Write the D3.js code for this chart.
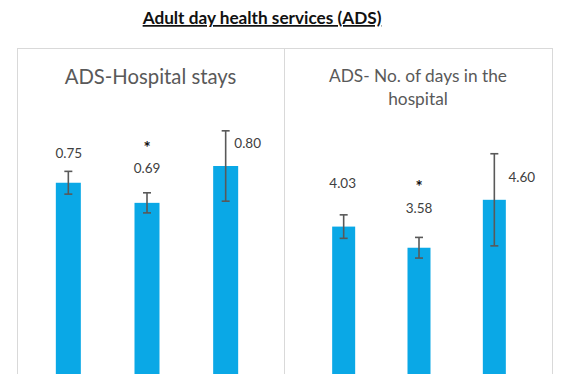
<!DOCTYPE html>
<html>
<head>
<meta charset="utf-8">
<script src="https://cdn.jsdelivr.net/npm/d3@7"></script>
<style>
  html, body { margin: 0; padding: 0; background: #fff; }
  svg { display: block; font-family: Lato, "Open Sans", sans-serif; }
</style>
</head>
<body>
<div id="chart"></div>
<script>
// ---- data ----
const mainTitle = 'Adult day health services (ADS)';
const groups = ['Group 1', 'Group 2', 'Group 3'];

const staysTitle = ['ADS-Hospital stays'];
const staysValues = [0.75, 0.69, 0.80];
const staysErrors = [0.034, 0.03, 0.105];
const staysLabels = ['0.75', '0.69', '0.80'];
const staysStars = ['', '*', ''];

const daysTitle = ['ADS- No. of days in the', 'hospital'];
const daysValues = [4.03, 3.58, 4.60];
const daysErrors = [0.25, 0.22, 0.98];
const daysLabels = ['4.03', '3.58', '4.60'];
const daysStars = ['', '*', ''];

// ---- layout ----
const width = 574, height = 374;
const barColor = '#0aa8e6';
const errColor = '#595959';

const panels = [
  {
    title: staysTitle, values: staysValues, errors: staysErrors, labels: staysLabels, stars: staysStars,
    box: [17, 284], xRange: [29, 265], yDomain: [0, 1], yRange: [434, 99], barW: 25,
    titleY: 84, titleSize: 20.3,
    labelOff: [[0.5, -25], [0, -30], [22, -18]], starOff: [[0, 0], [0, -51], [0, 0]]
  },
  {
    title: daysTitle, values: daysValues, errors: daysErrors, labels: daysLabels, stars: daysStars,
    box: [284, 552], xRange: [306, 532], yDomain: [0, 6], yRange: [416, 134], barW: 23,
    titleY: 82, titleSize: 17.3,
    labelOff: [[-1, -39], [0, -35], [27.5, -18]], starOff: [[0, 0], [0, -57], [0, 0]]
  }
];

const svg = d3.select('#chart')
  .append('svg')
  .attr('width', width)
  .attr('height', height);

// Main title (bold, underlined)
svg.append('text')
  .attr('x', 262)
  .attr('y', 24)
  .attr('text-anchor', 'middle')
  .style('font-size', '17.2px')
  .style('font-weight', 'bold')
  .style('text-decoration', 'underline')
  .attr('fill', '#111')
  .text(mainTitle);

panels.forEach(p => {
  const g = svg.append('g');

  // panel frame
  g.append('rect')
    .attr('x', p.box[0] + 0.5)
    .attr('y', 48.5)
    .attr('width', p.box[1] - p.box[0])
    .attr('height', 340)
    .attr('fill', 'none')
    .attr('stroke', '#d9d9d9')
    .attr('stroke-width', 1);

  const cx = (p.box[0] + p.box[1]) / 2;

  // panel title
  p.title.forEach((line, i) => {
    g.append('text')
      .attr('x', cx)
      .attr('y', p.titleY + i * 23)
      .attr('text-anchor', 'middle')
      .style('font-size', p.titleSize + 'px')
      .attr('fill', '#595959')
      .text(line);
  });

  const x = d3.scalePoint()
    .domain(groups)
    .range(p.xRange)
    .padding(0.5);

  const y = d3.scaleLinear()
    .domain(p.yDomain)
    .range(p.yRange);

  const data = groups.map((name, i) => ({
    name, value: p.values[i], err: p.errors[i], label: p.labels[i], star: p.stars[i], i
  }));

  // bars
  g.selectAll('.bar')
    .data(data)
    .enter()
    .append('rect')
    .attr('class', 'bar')
    .attr('x', d => x(d.name) - p.barW / 2)
    .attr('y', d => y(d.value))
    .attr('width', p.barW)
    .attr('height', d => y(0) - y(d.value))
    .attr('fill', barColor);

  // error bars
  const eb = g.selectAll('.err')
    .data(data)
    .enter()
    .append('g')
    .attr('class', 'err')
    .attr('stroke', errColor)
    .attr('stroke-width', 1.6);

  eb.append('line')
    .attr('x1', d => x(d.name))
    .attr('x2', d => x(d.name))
    .attr('y1', d => y(d.value + d.err))
    .attr('y2', d => y(d.value - d.err));

  [1, -1].forEach(sign => {
    eb.append('line')
      .attr('x1', d => x(d.name) - 4)
      .attr('x2', d => x(d.name) + 4)
      .attr('y1', d => y(d.value + sign * d.err))
      .attr('y2', d => y(d.value + sign * d.err));
  });

  // value labels
  g.selectAll('.lbl')
    .data(data)
    .enter()
    .append('text')
    .attr('class', 'lbl')
    .attr('x', d => x(d.name) + p.labelOff[d.i][0])
    .attr('y', d => y(d.value) + p.labelOff[d.i][1])
    .attr('text-anchor', 'middle')
    .style('font-size', '13.5px')
    .attr('fill', '#404040')
    .text(d => d.label);

  // significance stars
  g.selectAll('.star')
    .data(data.filter(d => d.star))
    .enter()
    .append('text')
    .attr('class', 'star')
    .attr('x', d => x(d.name) + p.starOff[d.i][0])
    .attr('y', d => y(d.value) + p.starOff[d.i][1] + 2)
    .attr('text-anchor', 'middle')
    .style('font-size', '17px')
    .style('font-weight', 'bold')
    .attr('fill', '#111')
    .text(d => d.star);
});
</script>
</body>
</html>
